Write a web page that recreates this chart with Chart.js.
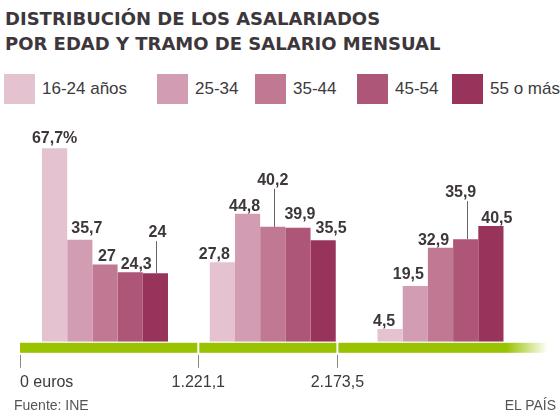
<!DOCTYPE html>
<html>
<head>
<meta charset="utf-8">
<script src="https://cdn.jsdelivr.net/npm/chart.js@4"></script>
<style>
body{margin:0;background:#fff;}
#wrap{position:relative;width:560px;height:420px;font-family:"Liberation Sans",Arial,sans-serif;overflow:hidden;}
#stage{position:absolute;left:0;top:0;}
.title{position:absolute;left:5px;top:6px;font:bold 18px/25px "DejaVu Sans";color:#3d373c;white-space:nowrap;}
.leg{position:absolute;top:74px;height:30px;display:flex;align-items:center;font-size:17px;color:#3c3a3c;white-space:nowrap;}
.leg .box{display:inline-block;width:31px;height:30px;margin-right:7px;}
.foot{position:absolute;top:397px;font-size:14px;color:#555;}
</style>
</head>
<body>
<div id="wrap">
  <div class="title">DISTRIBUCIÓN DE LOS ASALARIADOS<br>POR EDAD Y TRAMO DE SALARIO MENSUAL</div>
  <div id="legend"></div>
  <canvas id="stage" width="560" height="420"></canvas>
  <div class="foot" style="left:14px">Fuente: INE</div>
  <div class="foot" style="right:4px">EL PAÍS</div>
</div>
<script>
// tramos de salario (0 / 1.221,1 / 2.173,5 euros)
const tramos = ['0 - 1.221,1', '1.221,1 - 2.173,5', 'más de 2.173,5'];
const edades = ['16-24 años', '25-34', '35-44', '45-54', '55 o más'];

const e16_24 = [67.7, 27.8, 4.5];
const e25_34 = [35.7, 44.8, 19.5];
const e35_44 = [27, 40.2, 32.9];
const e45_54 = [24.3, 39.9, 35.9];
const e55 = [24, 35.5, 40.5];

const euroTicks = [0, 1221.1, 2173.5];
const euroLabels = ['0 euros', '1.221,1', '2.173,5'];

const colores = ['#e4c2d0', '#d29db3', '#c07893', '#ad5677', '#98345b'];
const legendX = [4, 157, 255, 357, 452];

// desplazamiento de las etiquetas [dx, separacion] (para que no se pisen)
const labelShift = [
  [[0, 5], [-8, 3], [-6, 3]],
  [[7, 7], [-3, 3], [-7, 7]],
  [[2, 4], [0, 42], [-7, 3]],
  [[6, 3], [2, 9], [-5, 42]],
  [[2, 36], [8, 7], [6, 3]]
];

// leyenda
const leg = document.getElementById('legend');
edades.forEach((e, i) => {
  leg.insertAdjacentHTML('beforeend',
    `<div class="leg" style="left:${legendX[i]}px"><span class="box" style="background:${colores[i]}"></span>${e}</div>`);
});

const series = [e16_24, e25_34, e35_44, e45_54, e55];
const EURO_MAX = 3616;

const bandPlugin = {
  id: 'band',
  afterDraw(chart) {
    const {ctx, chartArea: a} = chart;
    const sc = chart.scales.euros;
    const xs = euroTicks.map(v => sc.getPixelForValue(v));
    const edges = xs.concat([a.right]);
    const y = a.bottom + 1;
    ctx.save();
    for (let k = 0; k < xs.length; k++) {
      const l = k === 0 ? edges[0] : edges[k] + 1;
      const r = k === xs.length - 1 ? edges[k + 1] : edges[k + 1] - 1;
      if (k === xs.length - 1) {
        const g = ctx.createLinearGradient(l, 0, r, 0);
        g.addColorStop(0, '#99c200');
        g.addColorStop((a.right - 42 - l) / (r - l), '#99c200');
        g.addColorStop(1, 'rgba(153,194,0,0)');
        ctx.fillStyle = g;
      } else {
        ctx.fillStyle = '#99c200';
      }
      ctx.fillRect(l, y, r - l, 10);
    }
    ctx.strokeStyle = '#888';
    ctx.lineWidth = 1;
    xs.forEach(x => {
      ctx.beginPath();
      ctx.moveTo(Math.round(x) + 0.5, a.bottom + 13);
      ctx.lineTo(Math.round(x) + 0.5, a.bottom + 26);
      ctx.stroke();
    });
    ctx.restore();
  }
};

const valuePlugin = {
  id: 'values',
  afterDatasetsDraw(chart) {
    const ctx = chart.ctx;
    ctx.save();
    ctx.font = 'bold 16px "Liberation Sans"';
    ctx.fillStyle = '#3d373c';
    ctx.textAlign = 'center';
    ctx.textBaseline = 'alphabetic';
    ctx.strokeStyle = '#666';
    ctx.lineWidth = 1;
    chart.data.datasets.forEach((ds, i) => {
      chart.getDatasetMeta(i).data.forEach((bar, j) => {
        const [dx, gap] = labelShift[i][j];
        let txt = String(ds.data[j].y).replace('.', ',');
        if (i === 0 && j === 0) txt += '%';
        const by = bar.y - gap;
        ctx.fillText(txt, bar.x + dx, by);
        if (gap > 20) {
          const lx = Math.round(bar.x) + 1.5;
          ctx.beginPath();
          ctx.moveTo(lx, bar.y);
          ctx.lineTo(lx, by + 4);
          ctx.stroke();
        }
      });
    });
    ctx.restore();
  }
};

new Chart(document.getElementById('stage'), {
  type: 'bar',
  data: {
    datasets: series.map((s, i) => ({
      label: edades[i],
      data: s.map((v, j) => ({x: j, y: v})),
      backgroundColor: colores[i],
      categoryPercentage: 0.751,
      barPercentage: 1
    }))
  },
  options: {
    responsive: false,
    animation: false,
    layout: {padding: {top: 113, left: 20, right: 12, bottom: 28}},
    plugins: {legend: {display: false}, tooltip: {enabled: false}},
    scales: {
      x: {
        type: 'linear', min: -0.5067, max: 2.6408, display: false,
        offset: false, grid: {offset: false},
        afterBuildTicks: s => { s.ticks = tramos.map((t, j) => ({value: j})); }
      },
      y: {min: 0, max: 80, display: false},
      euros: {
        type: 'linear', axis: 'x', position: 'bottom', min: 0, max: EURO_MAX,
        offset: false,
        grid: {display: false, offset: false, drawTicks: true, tickLength: 31}, border: {display: false},
        afterBuildTicks: s => { s.ticks = euroTicks.concat([EURO_MAX]).map(v => ({value: v})); },
        ticks: {
          autoSkip: false, maxRotation: 0, align: 'inner', padding: 0,
          color: '#3c3a3c', font: {family: 'Liberation Sans', size: 16},
          callback: (v, i) => euroLabels[i] || ''
        }
      }
    }
  },
  plugins: [bandPlugin, valuePlugin]
});
</script>
</body>
</html>
